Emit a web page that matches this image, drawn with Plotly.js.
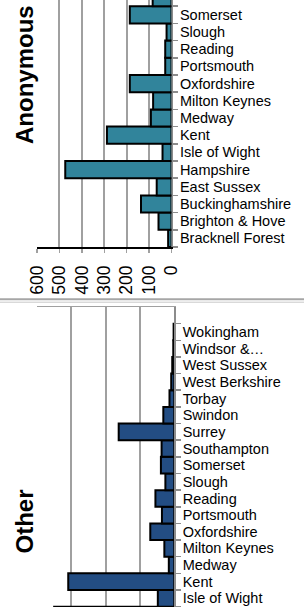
<!DOCTYPE html>
<html>
<head>
<meta charset="utf-8">
<script src="https://cdn.plot.ly/plotly-3.0.1.min.js"></script>
<style>html,body{margin:0;padding:0;background:#fff;}#chart{width:304px;height:607px;}</style>
</head>
<body>
<div id="chart"></div>
<script>
// Panel 1: Anonymous (visible categories, bottom to top)
const anonCategories = ["Bracknell Forest","Brighton & Hove","Buckinghamshire","East Sussex","Hampshire","Isle of Wight","Kent","Medway","Milton Keynes","Oxfordshire","Portsmouth","Reading","Slough","Somerset","Southampton"];
const anonValues = [15, 58, 136, 66, 474, 40, 288, 92, 82, 186, 28, 28, 22, 186, 84];

// Panel 2: Other (visible categories, bottom to top)
const otherCategories = ["Hampshire","Isle of Wight","Kent","Medway","Milton Keynes","Oxfordshire","Portsmouth","Reading","Slough","Somerset","Southampton","Surrey","Swindon","Torbay","West Berkshire","West Sussex","Windsor &…","Wokingham"];
const otherValues = [350, 48, 309, 16, 29, 70, 36, 55, 26, 39, 37, 162, 32, 14, 9, 6, 3, 2];

const anonTickVals = [600, 500, 400, 300, 200, 100, 0];
const panelTitles = ["Anonymous", "Other"];

const W = 304, H = 607;
const px = v => v / W;
const py = v => (H - v) / H;
const FONT = "Liberation Sans, Arial, sans-serif";

const traces = [
  {type: "bar", orientation: "h", x: anonValues, y: anonCategories, xaxis: "x", yaxis: "y",
   marker: {color: "#31849B", line: {color: "#000000", width: 2}}, hoverinfo: "none"},
  {type: "bar", orientation: "h", x: otherValues, y: otherCategories, xaxis: "x2", yaxis: "y2",
   marker: {color: "#234D83", line: {color: "#000000", width: 2}}, hoverinfo: "none"}
];

const yCommon = {
  type: "category", side: "right", showline: true, linecolor: "#8c8c8c", linewidth: 1.5,
  tickmode: "linear", tick0: 0, dtick: 1,
  ticks: "outside", tickson: "boundaries", ticklen: 5, tickcolor: "#8c8c8c", tickwidth: 1.5,
  showgrid: false, zeroline: false, ticklabelstandoff: 4,
  tickfont: {family: FONT, size: 14.5, color: "#000000"}, fixedrange: true
};

const layout = {
  width: W, height: H, margin: {l: 0, r: 0, t: 0, b: 0},
  paper_bgcolor: "#ffffff", plot_bgcolor: "#ffffff",
  showlegend: false, bargap: 0,
  font: {family: FONT, color: "#000000"},
  xaxis: {
    domain: [px(37), px(171.5)], anchor: "y", range: [600, 0],
    tickvals: anonTickVals, ticktext: anonTickVals.map(String), tickangle: -90,
    showgrid: true, gridcolor: "#a0a0a0", gridwidth: 2, zeroline: false,
    showline: true, linecolor: "#000000", linewidth: 1.5,
    ticks: "outside", ticklen: 4, tickcolor: "#a0a0a0", tickwidth: 1.5,
    ticklabelstandoff: 6,
    tickfont: {family: FONT, size: 17.5, color: "#000000"}, fixedrange: true
  },
  yaxis: Object.assign({}, yCommon, {
    domain: [py(247), 1], anchor: "x",
    categoryorder: "array", categoryarray: anonCategories,
    range: [-0.5, 13.86]
  }),
  xaxis2: {
    domain: [px(37), px(174.3)], anchor: "y2", range: [400, 0], side: "top",
    dtick: 100, tick0: 0, showgrid: true, gridcolor: "#a0a0a0", gridwidth: 2, zeroline: false,
    showline: true, linecolor: "#a0a0a0", linewidth: 1.5,
    ticks: "", showticklabels: false, fixedrange: true
  },
  yaxis2: Object.assign({}, yCommon, {
    domain: [0, py(307)], anchor: "x2",
    categoryorder: "array", categoryarray: otherCategories,
    range: [0.48, 18.5]
  }),
  shapes: [
    {type: "line", xref: "paper", yref: "paper", x0: 0, x1: 1, y0: py(299.3), y1: py(299.3),
     line: {color: "#a6a6a6", width: 2}},
    {type: "line", xref: "paper", yref: "paper", x0: 0, x1: 1, y0: py(302.2), y1: py(302.2),
     line: {color: "#c8c8c8", width: 1}}
  ],
  annotations: [
    {text: panelTitles[0], xref: "paper", yref: "paper", x: px(24), y: py(75),
     xanchor: "center", yanchor: "middle", textangle: -90, showarrow: false,
     font: {family: FONT, size: 24, color: "#000000", weight: "bold"}},
    {text: panelTitles[1], xref: "paper", yref: "paper", x: px(24), y: py(521.5),
     xanchor: "center", yanchor: "middle", textangle: -90, showarrow: false,
     font: {family: FONT, size: 24, color: "#000000", weight: "bold"}}
  ]
};

Plotly.newPlot("chart", traces, layout, {staticPlot: true, displayModeBar: false});
</script>
</body>
</html>
